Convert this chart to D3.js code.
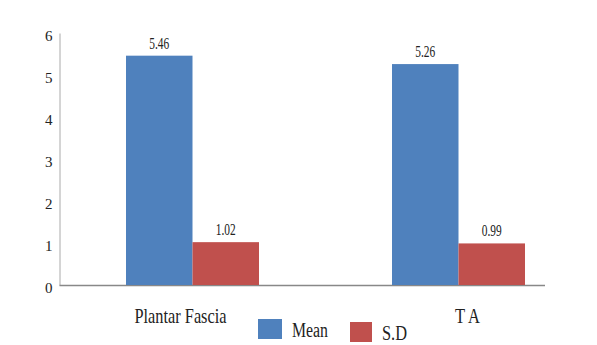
<!DOCTYPE html>
<html>
<head>
<meta charset="utf-8">
<script src="https://cdn.jsdelivr.net/npm/d3@7"></script>
<style>
  body { margin: 0; background: #fff; }
  .y-axis path { stroke: #aaa; }
</style>
</head>
<body>
<div id="chart"></div>
<script>
// chart data
var categories = ["Plantar Fascia", "T A"];
var seriesNames = ["Mean", "S.D"];
var meanValues = [5.46, 5.26];
var sdValues = [1.02, 0.99];
var yTicks = [0, 1, 2, 3, 4, 5, 6];
var colors = ["#4f81bd", "#c0504d"];

var serif = "'Liberation Serif', 'Times New Roman', Times, serif";

var svgWidth = 597;
var svgHeight = 345;

var svg = d3.select("#chart")
    .append("svg")
    .attr("width", svgWidth)
    .attr("height", svgHeight);

//scales
var x0 = d3.scaleBand()
    .domain(categories)
    .range([59.5, 591.5])
    .paddingInner(0.5)
    .paddingOuter(0.25);

var x1 = d3.scaleBand()
    .domain(seriesNames)
    .range([0, x0.bandwidth()]);

var y = d3.scaleLinear()
    .domain([0, 6])
    .range([285, 33]);

var rows = categories.map(function(c, i) {
    return { cat: c, values: [
        { name: seriesNames[0], value: meanValues[i] },
        { name: seriesNames[1], value: sdValues[i] }
    ]};
});

// y axis
var yAxis = svg.append("g")
    .attr("class", "y-axis")
    .attr("transform", "translate(59.5,0)")
    .call(d3.axisLeft(y).tickValues(yTicks).tickSize(0).tickPadding(7).tickFormat(d3.format("d")));
yAxis.selectAll("text")
    .style("font-family", serif)
    .style("font-size", "15px")
    .attr("fill", "#222")
    .attr("dy", "0.5em");

// baseline
svg.append("line")
    .attr("x1", 59.5).attr("x2", 545)
    .attr("y1", y(0) + 0.5).attr("y2", y(0) + 0.5)
    .attr("stroke", "#888")
    .attr("stroke-width", 1.5);

// bars
var groups = svg.selectAll(".grp")
    .data(rows)
    .enter()
    .append("g")
    .attr("class", "grp")
    .attr("transform", d => `translate(${x0(d.cat)},0)`);

groups.selectAll("rect")
    .data(d => d.values)
    .enter()
    .append("rect")
    .attr("x", d => x1(d.name))
    .attr("y", d => y(d.value))
    .attr("width", x1.bandwidth())
    .attr("height", d => y(0) - y(d.value))
    .attr("fill", (d, i) => colors[i]);

// value labels
groups.selectAll(".val")
    .data(d => d.values)
    .enter()
    .append("text")
    .attr("class", "val")
    .attr("x", d => x1(d.name) + x1.bandwidth() / 2)
    .attr("y", d => y(d.value) - 7)
    .attr("text-anchor", "middle")
    .style("font-family", serif)
    .style("font-size", "17px")
    .attr("fill", "#222")
    .attr("textLength", 20)
    .attr("lengthAdjust", "spacingAndGlyphs")
    .text(d => d.value.toFixed(2));

// category labels
svg.selectAll(".cat")
    .data(categories)
    .enter()
    .append("text")
    .attr("class", "cat")
    .attr("x", (d, i) => x0(d) + x0.bandwidth() / 2 + (i === 0 ? -12 : 9))
    .attr("y", 323)
    .attr("text-anchor", "middle")
    .style("font-family", serif)
    .style("font-size", "21px")
    .attr("fill", "#222")
    .attr("textLength", (d, i) => i === 0 ? 92 : 25)
    .attr("lengthAdjust", "spacingAndGlyphs")
    .text(d => d);

// legend
var legendX = [258, 350];
var legend = svg.selectAll(".leg")
    .data(seriesNames)
    .enter()
    .append("g")
    .attr("class", "leg")
    .attr("transform", (d, i) => `translate(${legendX[i]},${319 + i * 3})`);

legend.append("rect")
    .attr("width", (d, i) => i === 0 ? 24 : 22)
    .attr("height", 20)
    .attr("fill", (d, i) => colors[i]);

legend.append("text")
    .attr("x", (d, i) => i === 0 ? 34 : 32)
    .attr("y", 18)
    .style("font-family", serif)
    .style("font-size", "20px")
    .attr("fill", "#222")
    .attr("textLength", (d, i) => i === 0 ? 36 : 25)
    .attr("lengthAdjust", "spacingAndGlyphs")
    .text(d => d);
</script>
</body>
</html>
